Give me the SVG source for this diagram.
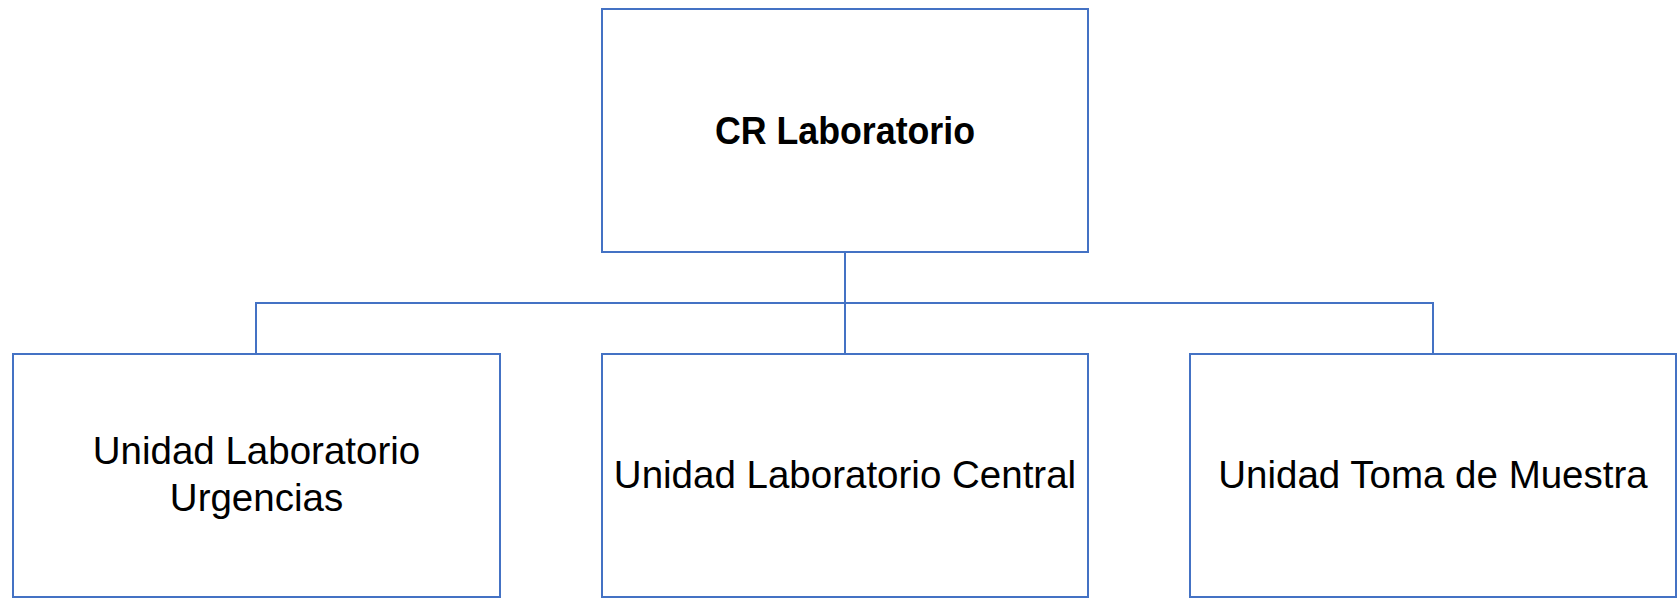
<svg xmlns="http://www.w3.org/2000/svg" width="1677" height="605" viewBox="0 0 1677 605">
<style>
.box{fill:#ffffff;stroke:#4472C4;stroke-width:2}
.con{fill:none;stroke:#4472C4;stroke-width:2}
.t{font-family:"Liberation Sans",Arial,sans-serif;font-size:38.5px;fill:#000;text-anchor:middle}
.b{font-weight:bold;font-size:38px}
</style>
<rect width="1677" height="605" fill="#ffffff"/>
<g id="connectors">
<path class="con" d="M845,252 V354"/>
<path class="con" d="M256,354 V303 H1433 V354"/>
</g>
<g id="n-cr">
<rect class="box" x="602" y="9" width="486" height="243"/>
<text class="t b" x="845" y="144" textLength="260" lengthAdjust="spacingAndGlyphs">CR Laboratorio</text>
</g>
<g id="n-urg">
<rect class="box" x="13" y="354" width="487" height="243"/>
<text class="t" x="256.5" y="464">Unidad Laboratorio</text>
<text class="t" x="256.5" y="511">Urgencias</text>
</g>
<g id="n-central">
<rect class="box" x="602" y="354" width="486" height="243"/>
<text class="t" x="845" y="488">Unidad Laboratorio Central</text>
</g>
<g id="n-toma">
<rect class="box" x="1190" y="354" width="486" height="243"/>
<text class="t" x="1433" y="488">Unidad Toma de Muestra</text>
</g>
</svg>
